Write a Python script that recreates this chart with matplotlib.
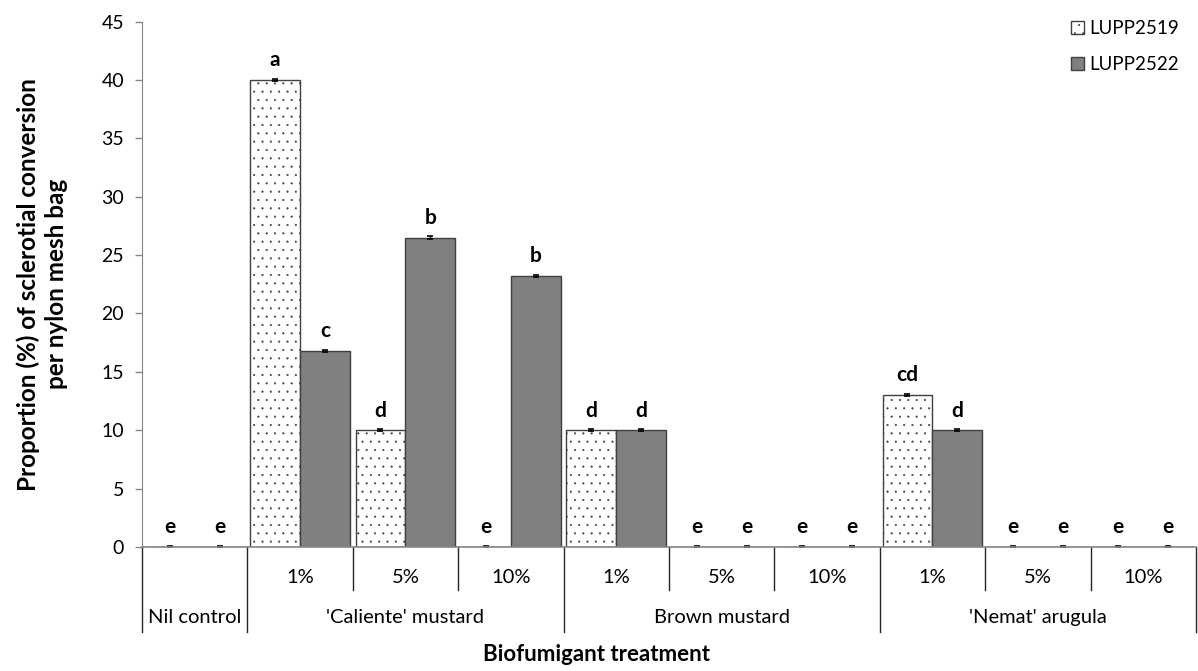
import matplotlib.pyplot as plt
import numpy as np

plt.rcParams['font.family'] = ['Lato', 'DejaVu Sans']
plt.rcParams['hatch.linewidth'] = 0.3

# data
rates = ['', '1%', '5%', '10%', '1%', '5%', '10%', '1%', '5%', '10%']
groups = ["Nil control", "'Caliente' mustard", "Brown mustard", "'Nemat' arugula"]
group_span = [(0, 0), (1, 3), (4, 6), (7, 9)]
lupp2519 = [0, 40, 10, 0, 10, 0, 0, 13, 0, 0]
lupp2522 = [0, 16.8, 26.5, 23.2, 10, 0, 0, 10, 0, 0]
err2519 = [0.1] * 10
err2522 = [0.1] * 10
let2519 = ['e', 'a', 'd', 'e', 'd', 'e', 'e', 'cd', 'e', 'e']
let2522 = ['e', 'c', 'b', 'b', 'd', 'e', 'e', 'd', 'e', 'e']

fig = plt.figure(figsize=(11.98, 6.71), dpi=100)
ax = fig.add_axes([0.1185, 0.1848, 0.8798, 0.7830])

x = np.arange(len(rates))
w = 0.474
edge = '#404040'
ax.bar(x - w/2, lupp2519, w, color='white', edgecolor=edge, linewidth=1,
       hatch='..', label='LUPP2519')
ax.bar(x + w/2, lupp2522, w, color='#808080', edgecolor=edge, linewidth=1,
       label='LUPP2522')
ax.errorbar(x - w/2, lupp2519, yerr=err2519, fmt='none', ecolor='black',
            elinewidth=1, capsize=2, capthick=1.2)
ax.errorbar(x + w/2, lupp2522, yerr=err2522, fmt='none', ecolor='black',
            elinewidth=1, capsize=2, capthick=1.2)

# significance letters
for xi, v, l in zip(x - w/2, lupp2519, let2519):
    ax.annotate(l, (xi, v), xytext=(0, 7), textcoords='offset points',
                ha='center', va='bottom', fontsize=15, fontweight='bold')
for xi, v, l in zip(x + w/2, lupp2522, let2522):
    ax.annotate(l, (xi, v), xytext=(0, 7), textcoords='offset points',
                ha='center', va='bottom', fontsize=15, fontweight='bold')

ax.set_xlim(-0.5, len(rates) - 0.5)
ax.set_ylim(0, 45)
ax.set_yticks(np.arange(0, 46, 5))
ax.tick_params(axis='y', labelsize=14, length=5, color='#868686', width=1,
               pad=8)
ax.set_xticks([])
for s in ['top', 'right']:
    ax.spines[s].set_visible(False)
ax.spines['left'].set_color('#868686')
ax.spines['bottom'].set_color('#868686')
ax.spines['bottom'].set_linewidth(1.2)

# category table below the axis
short_y = -0.082
long_y = -0.162
trans = ax.get_xaxis_transform()
full_bounds = [-0.5, 0.5, 3.5, 6.5, 9.5]
for bnd in np.arange(-0.5, len(rates)):
    y_end = long_y if bnd in full_bounds else short_y
    ax.plot([bnd, bnd], [0, y_end], transform=trans, color='#262626',
            lw=1, clip_on=False)
for xi, r in zip(x, rates):
    if r:
        ax.text(xi, -0.058, r, transform=trans, ha='center', va='center',
                fontsize=14.5)
for g, (a, b) in zip(groups, group_span):
    ax.text((a + b) / 2, -0.135, g, transform=trans, ha='center',
            va='center', fontsize=14.5)

ax.set_ylabel('Proportion (%) of sclerotial conversion\nper nylon mesh bag',
              fontsize=17.5, fontweight='bold', linespacing=1.25)
ax.yaxis.set_label_coords(-0.070, 0.5)
fig.text(0.498, 0.024, 'Biofumigant treatment', ha='center', va='center',
         fontsize=16, fontweight='bold')

ax.legend(loc='upper right', bbox_to_anchor=(1.0, 1.035), frameon=False,
          fontsize=13.5, handlelength=0.7, handleheight=0.7,
          handletextpad=0.3, labelspacing=1.0)

fig.savefig('out.png', dpi=100)
